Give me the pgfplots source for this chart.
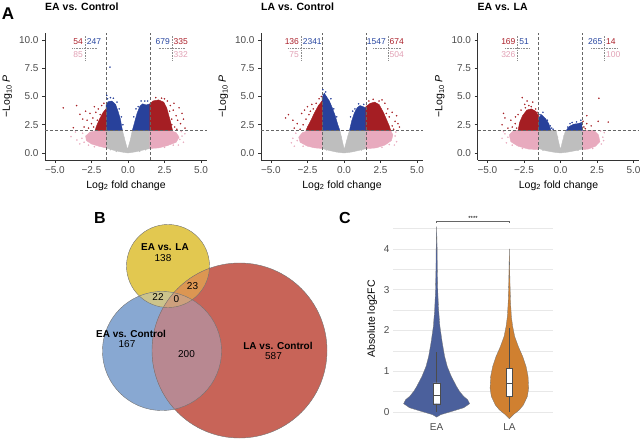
\documentclass[border=0pt]{standalone}
\usepackage{fontspec}
\setmainfont{Liberation Sans}
\usepackage{pgfplots}
\pgfplotsset{compat=1.18}
\definecolor{redpt}{RGB}{165,30,35}
\definecolor{bluept}{RGB}{40,65,155}
\definecolor{pinkpt}{RGB}{232,170,190}
\definecolor{greypt}{RGB}{190,190,190}
\definecolor{redlab}{RGB}{170,30,40}
\definecolor{bluelab}{RGB}{40,70,160}
\definecolor{pinklab}{RGB}{225,160,180}
\definecolor{vY}{RGB}{226,200,80}
\definecolor{vB}{RGB}{136,168,210}
\definecolor{vR}{RGB}{200,100,88}
\definecolor{vYB}{RGB}{204,196,140}
\definecolor{vBR}{RGB}{184,136,145}
\definecolor{vYR}{RGB}{220,150,82}
\definecolor{vYBR}{RGB}{205,160,125}
\definecolor{eacol}{RGB}{75,96,156}
\definecolor{lacol}{RGB}{208,128,48}
\tikzset{
 cnt/.style={font=\fontsize{8.5}{9}\selectfont, inner sep=1pt},
 sep/.style={black!45, line width=0.35pt, dash pattern=on 0.8pt off 0.8pt},
}
\pgfplotsset{
 volc/.style={
  scale only axis, width=162pt, height=127pt,
  xmin=-5.68, xmax=5.41, ymin=-0.62, ymax=10.62,
  axis x line*=bottom, axis y line*=left,
  axis line style={-, black!80, line width=0.5pt},
  every tick/.style={black!80, line width=0.5pt},
  tick align=outside, major tick length=3pt,
  xtick={-5,-2.5,0,2.5,5}, xticklabels={−5.0,−2.5,0.0,2.5,5.0},
  ytick={0,2.5,5,7.5,10}, yticklabels={0.0,2.5,5.0,7.5,10.0},
  tick label style={font=\fontsize{10}{11}\selectfont, text=black!70},
  label style={font=\fontsize{10.5}{12}\selectfont},
  xlabel={Log\textsubscript{2} fold change},
  ylabel={−Log\textsubscript{10} \textit{P}},
  anchor=south west,
 },
 dens/.style={draw=#1, fill=#1, line width=0.4pt},
 pts/.style={only marks, color=#1, mark=*, mark size=0.7pt, mark options={draw=#1, fill=#1, line width=0.1pt}},
 thr/.style={black!60, line width=0.5pt, dash pattern=on 3pt off 2pt},
}
\begin{document}
\begin{tikzpicture}[x=1pt,y=1pt]
\useasboundingbox (0,0) rectangle (643,440);

% ---------- Panel A1: EA vs. Control
\begin{axis}[volc, at={(45pt,280pt)}]
\addplot[dens=greypt] coordinates {(-1.5,2)(-1.5,0.45)(-1.0,0.25)(-0.5,0.1)(0,0)(0.5,0.1)(1.0,0.25)(1.5,0.4)(1.5,2)(0.3,2)(0.15,1.1)(-0.03,0.3)(-0.2,1.1)(-0.38,2)(-1.5,2)};
\addplot[dens=pinkpt] coordinates {(-1.5,2)(-2.1,2)(-2.6,1.85)(-2.9,1.5)(-2.85,1.1)(-2.5,0.8)(-2.0,0.6)(-1.5,0.45)(-1.5,2)};
\addplot[dens=pinkpt] coordinates {(1.5,2)(2.9,2)(3.3,1.8)(3.5,1.4)(3.3,0.95)(2.7,0.65)(2.1,0.45)(1.5,0.4)(1.5,2)};
\addplot[pts=pinkpt] coordinates {(-3.9,1.45)(-3.5,1.15)(-3.3,0.8)(-3.1,1.75)(-3.6,1.85)(-3.15,1.3)(-3.0,0.95)(-2.7,0.7)(-2.3,0.55)(3.7,1.5)(3.8,0.95)(3.65,1.9)(3.55,1.2)(3.9,1.7)(3.45,0.7)(3.1,0.7)(2.5,0.5)};
\addplot[pts=greypt] coordinates {(-0.3,1.4)(-0.25,0.9)(0.2,0.8)(0.25,1.5)(-1.2,0.3)(1.2,0.3)(-0.8,0.15)(0.8,0.15)};
\addplot[dens=bluept] coordinates {(-1.5,2)(-1.5,4.25)(-1.35,4.55)(-1.1,4.6)(-0.85,4.3)(-0.68,3.7)(-0.52,3.0)(-0.38,2)(-1.5,2)};
\addplot[dens=bluept] coordinates {(0.3,2)(0.45,2.7)(0.62,3.5)(0.82,4.15)(1.0,4.35)(1.25,4.25)(1.5,4.35)(1.5,2)(0.3,2)};
\addplot[pts=bluept] coordinates {(-1.23,7.6)(-1.4,4.8)(-1.0,4.85)(-0.75,4.5)(0.9,4.6)(0.7,4.1)(1.35,4.6)(-1.45,5.1)(-0.6,3.9)(-0.45,3.2)(-0.35,2.5)(0.4,3.2)(0.55,3.9)(1.15,4.6)(-1.2,4.9)};
\addplot[dens=redpt] coordinates {(1.5,2)(1.5,4.35)(1.7,4.6)(2.1,4.7)(2.45,4.5)(2.65,4.0)(2.8,3.3)(2.95,2.6)(3.05,2)(1.5,2)};
\addplot[dens=redpt] coordinates {(-1.5,2)(-1.5,3.9)(-1.7,3.6)(-1.95,3.0)(-2.15,2.4)(-2.25,2)(-1.5,2)};
\addplot[pts=redpt] coordinates {(-4.43,4.0)(-3.52,4.2)(-3.29,3.42)(-3.74,2.24)(-2.3,4.1)(-2.03,3.9)(-2.6,3.5)(-2.8,2.9)(-2.5,2.6)(-3.0,2.3)(-2.4,3.1)(-1.8,4.2)(-2.2,3.6)(-2.7,2.2)(-1.65,4.4)(-3.1,3.0)(-2.9,3.7)(-2.1,2.9)(-1.9,3.4)(-2.35,2.3)
 (3.1,3.8)(3.3,3.3)(3.6,2.6)(3.9,2.2)(3.2,2.3)(2.9,4.2)(3.4,2.9)(3.0,3.0)(3.7,3.5)(2.7,4.6)(3.5,4.0)(3.8,3.0)(3.15,4.4)(3.35,2.1)(2.5,4.8)(1.9,4.9)(2.3,4.85)(2.85,3.7)(3.0,2.5)};
\addplot[thr] coordinates {(-1.5,-0.62)(-1.5,10.62)};
\addplot[thr] coordinates {(1.5,-0.62)(1.5,10.62)};
\addplot[thr] coordinates {(-5.68,2)(5.41,2)};
\draw[sep] (axis cs:-2.95,8.2) -- (axis cs:-2.95,10.4);
\draw[sep] (axis cs:-3.8,9.3) -- (axis cs:-2.1,9.3);
\draw[sep] (axis cs:3.0,8.2) -- (axis cs:3.0,10.4);
\draw[sep] (axis cs:2.1,9.3) -- (axis cs:3.9,9.3);
\node[cnt, text=redlab, anchor=east] at (axis cs:-3.0,9.85) {54};
\node[cnt, text=bluelab, anchor=west] at (axis cs:-2.9,9.85) {247};
\node[cnt, text=pinklab, anchor=east] at (axis cs:-3.0,8.75) {85};
\node[cnt, text=bluelab, anchor=east] at (axis cs:2.95,9.85) {679};
\node[cnt, text=redlab, anchor=west] at (axis cs:3.05,9.85) {335};
\node[cnt, text=pinklab, anchor=west] at (axis cs:3.05,8.75) {332};
\end{axis}

% ---------- Panel A2: LA vs. Control
\begin{axis}[volc, at={(261pt,280pt)}]
\addplot[dens=greypt] coordinates {(-1.5,2)(-1.5,0.4)(-1.0,0.22)(-0.5,0.08)(0,0)(0.5,0.08)(1.0,0.22)(1.5,0.38)(1.5,2)(0.38,2)(0.18,1.1)(0.02,0.3)(-0.12,1.1)(-0.28,2)(-1.5,2)};
\addplot[dens=pinkpt] coordinates {(-1.5,2)(-2.4,2)(-2.85,1.8)(-3.1,1.4)(-3.0,0.95)(-2.5,0.6)(-2.0,0.45)(-1.5,0.4)(-1.5,2)};
\addplot[dens=pinkpt] coordinates {(1.5,2)(3.2,2)(3.35,1.6)(3.25,1.1)(2.8,0.7)(2.2,0.45)(1.5,0.38)(1.5,2)};
\addplot[pts=pinkpt] coordinates {(-3.5,1.3)(-3.3,1.75)(-3.6,0.9)(-3.4,0.6)(-3.2,1.1)(-2.8,0.6)(3.5,1.5)(3.6,1.0)(3.45,0.7)(3.55,1.85)(3.1,0.75)(2.6,0.5)};
\addplot[pts=greypt] coordinates {(-0.2,1.4)(0.3,1.5)(-1.2,0.28)(1.2,0.28)};
\addplot[dens=bluept] coordinates {(-1.5,2)(-1.5,4.9)(-1.35,5.3)(-1.2,5.0)(-1.0,4.6)(-0.8,4.0)(-0.6,3.3)(-0.42,2.5)(-0.28,2)(-1.5,2)};
\addplot[dens=bluept] coordinates {(0.38,2)(0.52,2.8)(0.7,3.5)(0.9,4.0)(1.1,4.2)(1.3,4.1)(1.5,4.0)(1.5,2)(0.38,2)};
\addplot[pts=bluept] coordinates {(-1.45,5.6)(-1.25,5.4)(-0.9,4.8)(1.0,4.35)(0.75,3.9)(-0.7,3.9)(-0.5,3.2)(0.45,3.2)(0.6,3.7)(1.35,4.3)};
\addplot[dens=redpt] coordinates {(-1.5,2)(-1.5,4.6)(-1.75,4.2)(-2.0,3.6)(-2.3,2.8)(-2.5,2.3)(-2.6,2)(-1.5,2)};
\addplot[dens=redpt] coordinates {(1.5,2)(1.5,4.1)(1.8,4.4)(2.1,4.5)(2.4,4.3)(2.7,3.6)(2.9,3.0)(3.1,2.4)(3.2,2)(1.5,2)};
\addplot[pts=redpt] coordinates {(-4.0,3.1)(-3.8,3.4)(-3.2,2.6)(-2.9,3.5)(-2.8,2.5)(-2.6,3.0)(-2.5,4.1)(-2.2,4.3)(-3.4,2.2)(-3.0,2.1)(-2.7,3.8)(-2.4,3.4)(-2.1,3.9)(-1.9,4.4)(-1.7,4.8)(-3.5,2.9)(-2.3,3.7)(-1.55,5.0)
 (3.3,2.4)(3.5,2.8)(3.6,3.3)(3.3,3.6)(3.0,3.9)(2.8,4.4)(3.8,2.3)(3.4,2.1)(2.6,4.7)(3.1,3.2)(3.7,2.6)(2.4,4.6)(1.7,4.6)(2.0,4.75)(2.9,3.5)};
\addplot[thr] coordinates {(-1.5,-0.62)(-1.5,10.62)};
\addplot[thr] coordinates {(1.5,-0.62)(1.5,10.62)};
\addplot[thr] coordinates {(-5.68,2)(5.41,2)};
\draw[sep] (axis cs:-2.95,8.2) -- (axis cs:-2.95,10.4);
\draw[sep] (axis cs:-3.8,9.3) -- (axis cs:-2.0,9.3);
\draw[sep] (axis cs:3.0,8.2) -- (axis cs:3.0,10.4);
\draw[sep] (axis cs:2.0,9.3) -- (axis cs:3.9,9.3);
\node[cnt, text=redlab, anchor=east] at (axis cs:-3.0,9.85) {136};
\node[cnt, text=bluelab, anchor=west] at (axis cs:-2.9,9.85) {2341};
\node[cnt, text=pinklab, anchor=east] at (axis cs:-3.0,8.75) {75};
\node[cnt, text=bluelab, anchor=east] at (axis cs:2.95,9.85) {1547};
\node[cnt, text=redlab, anchor=west] at (axis cs:3.05,9.85) {674};
\node[cnt, text=pinklab, anchor=west] at (axis cs:3.05,8.75) {504};
\end{axis}

% ---------- Panel A3: EA vs. LA
\begin{axis}[volc, at={(477.5pt,280pt)}]
\addplot[dens=greypt] coordinates {(-1.5,2)(-1.5,0.4)(-1.0,0.2)(-0.5,0.08)(0,0)(0.5,0.08)(1.0,0.2)(1.5,0.35)(1.5,2)(0.35,2)(0.15,1.1)(0,0.3)(-0.15,1.1)(-0.3,2)(-1.5,2)};
\addplot[dens=pinkpt] coordinates {(-1.5,2)(-3.2,2)(-3.5,1.6)(-3.4,1.0)(-2.9,0.6)(-2.2,0.35)(-1.5,0.3)(-1.5,2)};
\addplot[dens=pinkpt] coordinates {(1.5,2)(2.3,2)(2.6,1.6)(2.7,1.0)(2.4,0.6)(1.9,0.35)(1.5,0.3)(1.5,2)};
\addplot[pts=pinkpt] coordinates {(-3.8,1.7)(-4.0,1.3)(-3.7,0.9)(-3.9,1.9)(-3.6,1.4)(-3.3,0.7)(-2.6,0.4)(2.9,1.4)(2.8,0.8)(3.0,1.8)(2.95,1.1)(2.75,1.95)(2.2,0.4)};
\addplot[pts=greypt] coordinates {(-0.2,1.4)(0.25,1.5)(-1.2,0.25)(1.2,0.25)};
\addplot[dens=bluept] coordinates {(-1.5,2)(-1.5,3.1)(-1.3,3.4)(-1.0,3.0)(-0.8,2.6)(-0.65,2)(-1.5,2)};
\addplot[dens=bluept] coordinates {(0.4,2)(0.6,2.35)(0.9,2.55)(1.2,2.6)(1.45,2.7)(1.5,2)(0.4,2)};
\addplot[pts=bluept] coordinates {(-1.2,3.6)(-0.9,2.9)(-0.7,2.4)(-0.6,2.2)(0.8,2.7)(1.1,2.75)(1.4,2.9)(0.5,2.3)(-1.4,3.4)(-0.5,2.1)(0.65,2.6)};
\addplot[dens=redpt] coordinates {(-1.5,2)(-1.5,3.3)(-1.7,3.7)(-2.0,3.9)(-2.3,3.8)(-2.6,3.3)(-2.8,2.7)(-2.9,2)(-1.5,2)};
\addplot[pts=redpt] coordinates {(-2.62,4.9)(-2.28,4.6)(-2.17,4.2)(-3.08,3.2)(-3.9,3.5)(-3.8,3.1)(-4.0,2.5)(-3.4,2.9)(-3.3,2.3)(-1.9,4.5)(-2.7,3.8)(-1.7,3.9)(-3.1,2.6)(-2.45,4.3)(-3.6,2.2)(-2.0,4.1)(-2.9,3.4)(-3.0,2.2)(-2.4,4.0)(-1.6,3.6)
 (2.63,4.84)(2.58,2.8)(3.27,2.74)(1.8,2.6)(1.6,2.3)(1.7,2.15)(2.1,2.4)(1.8,3.3)(1.55,2.8)};
\addplot[thr] coordinates {(-1.5,-0.62)(-1.5,10.62)};
\addplot[thr] coordinates {(1.5,-0.62)(1.5,10.62)};
\addplot[thr] coordinates {(-5.68,2)(5.41,2)};
\draw[sep] (axis cs:-2.95,8.2) -- (axis cs:-2.95,10.4);
\draw[sep] (axis cs:-3.8,9.3) -- (axis cs:-2.1,9.3);
\draw[sep] (axis cs:3.0,8.2) -- (axis cs:3.0,10.4);
\draw[sep] (axis cs:2.1,9.3) -- (axis cs:3.9,9.3);
\node[cnt, text=redlab, anchor=east] at (axis cs:-3.0,9.85) {169};
\node[cnt, text=bluelab, anchor=west] at (axis cs:-2.9,9.85) {51};
\node[cnt, text=pinklab, anchor=east] at (axis cs:-3.0,8.75) {326};
\node[cnt, text=bluelab, anchor=east] at (axis cs:2.95,9.85) {265};
\node[cnt, text=redlab, anchor=west] at (axis cs:3.05,9.85) {14};
\node[cnt, text=pinklab, anchor=west] at (axis cs:3.05,8.75) {100};
\end{axis}

% ---------- Panel B: Venn
\begin{axis}[scale only axis, width=643pt, height=440pt, xmin=0, xmax=643, ymin=0, ymax=440,
  hide axis, at={(0pt,0pt)}, anchor=south west, clip=false]
\fill[vY] (axis cs:168,174) circle[radius=41.5];
\fill[vB] (axis cs:162,89) circle[radius=59.5];
\fill[vR] (axis cs:239.5,89.5) circle[radius=87.5];
\begin{scope}\clip (axis cs:162,89) circle[radius=59.5]; \fill[vYB] (axis cs:168,174) circle[radius=41.5];\end{scope}
\begin{scope}\clip (axis cs:162,89) circle[radius=59.5]; \fill[vBR] (axis cs:239.5,89.5) circle[radius=87.5];\end{scope}
\begin{scope}\clip (axis cs:168,174) circle[radius=41.5]; \fill[vYR] (axis cs:239.5,89.5) circle[radius=87.5];\end{scope}
\begin{scope}\clip (axis cs:168,174) circle[radius=41.5]; \clip (axis cs:162,89) circle[radius=59.5]; \fill[vYBR] (axis cs:239.5,89.5) circle[radius=87.5];\end{scope}
\draw[black!55, line width=0.4pt] (axis cs:168,174) circle[radius=41.5];
\draw[black!55, line width=0.4pt] (axis cs:162,89) circle[radius=59.5];
\draw[black!55, line width=0.4pt] (axis cs:239.5,89.5) circle[radius=87.5];
\begin{scope}[every node/.style={font=\fontsize{10}{12}\selectfont, inner sep=0pt}]
\node[font=\fontsize{10}{12}\selectfont\bfseries] at (axis cs:165,193) {EA vs. LA};
\node at (axis cs:163,182) {138};
\node at (axis cs:158,143) {22};
\node at (axis cs:176.5,141) {0};
\node at (axis cs:192.5,153.5) {23};
\node[font=\fontsize{10}{12}\selectfont\bfseries] at (axis cs:131,106) {EA vs. Control};
\node at (axis cs:127,95.5) {167};
\node at (axis cs:186.5,86) {200};
\node[font=\fontsize{10}{12}\selectfont\bfseries] at (axis cs:278,94) {LA vs. Control};
\node at (axis cs:273.5,83.5) {587};
\end{scope}
\end{axis}

% ---------- Panel C: violin
\begin{axis}[scale only axis, width=160pt, height=202pt, at={(393pt,20pt)}, anchor=south west,
  xmin=0.4, xmax=2.6, ymin=-0.2, ymax=4.76,
  xtick={1,2}, xticklabels={EA,LA},
  ytick={0,1,2,3,4}, yticklabels={0,1,2,3,4},
  minor ytick={0.5,1.5,2.5,3.5,4.5},
  ymajorgrids, yminorgrids,
  major grid style={black!9, line width=0.5pt}, minor grid style={black!9, line width=0.5pt},
  axis line style={draw=none}, tick style={draw=none},
  tick label style={font=\fontsize{10}{11}\selectfont, text=black!70},
  ylabel={Absolute log2FC}, label style={font=\fontsize{10.5}{12}\selectfont},
  clip=false]
\addplot[fill=eacol, draw=black!55, line width=0.3pt] coordinates {
(1,-0.13)(1.055,-0.07)(1.234,0.025)(1.371,0.1)(1.454,0.2)(1.426,0.3)(1.371,0.38)(1.316,0.5)(1.275,0.62)(1.202,0.87)(1.147,1.11)(1.110,1.36)(1.078,1.69)(1.045,2.1)(1.0275,2.5)(1.0165,2.92)(1.0096,3.5)(1.0069,4.0)(1,4.55)
(0.9931,4.0)(0.9904,3.5)(0.9835,2.92)(0.9725,2.5)(0.955,2.1)(0.922,1.69)(0.890,1.36)(0.853,1.11)(0.798,0.87)(0.725,0.62)(0.684,0.5)(0.629,0.38)(0.574,0.3)(0.546,0.2)(0.629,0.1)(0.766,0.025)(0.945,-0.07)(1,-0.13)};
\addplot[fill=lacol, draw=black!55, line width=0.3pt] coordinates {
(2,-0.17)(2.055,-0.07)(2.138,0.05)(2.193,0.17)(2.248,0.38)(2.265,0.58)(2.257,0.87)(2.230,1.11)(2.183,1.36)(2.124,1.6)(2.073,1.85)(2.045,2.1)(2.0275,2.34)(2.0165,2.68)(2.008,3.2)(2,4.0)
(1.992,3.2)(1.9835,2.68)(1.9725,2.34)(1.955,2.1)(1.927,1.85)(1.876,1.6)(1.817,1.36)(1.770,1.11)(1.743,0.87)(1.735,0.58)(1.752,0.38)(1.807,0.17)(1.862,0.05)(1.945,-0.07)(2,-0.17)};
\addplot[black!70, line width=0.4pt] coordinates {(1,0)(1,1.47)};
\addplot[black!70, line width=0.4pt] coordinates {(2,0)(2,2.07)};
\addplot[fill=white, draw=black!70, line width=0.4pt] coordinates {(0.956,0.2)(1.044,0.2)(1.044,0.71)(0.956,0.71)(0.956,0.2)};
\addplot[black!70, line width=0.5pt] coordinates {(0.956,0.42)(1.044,0.42)};
\addplot[fill=white, draw=black!70, line width=0.4pt] coordinates {(1.956,0.39)(2.044,0.39)(2.044,1.06)(1.956,1.06)(1.956,0.39)};
\addplot[black!70, line width=0.5pt] coordinates {(1.956,0.71)(2.044,0.71)};
\addplot[black!60, line width=0.4pt] coordinates {(1,4.64)(1,4.68)(2,4.68)(2,4.64)};
\node[font=\fontsize{6}{6}\selectfont, anchor=south, inner sep=1pt] at (axis cs:1.5,4.68) {****};
\end{axis}

% ---------- titles and panel letters
\node[anchor=west, inner sep=0pt, font=\fontsize{10.5}{12}\selectfont\bfseries] at (45,433.5) {EA vs. Control};
\node[anchor=west, inner sep=0pt, font=\fontsize{10.5}{12}\selectfont\bfseries] at (261,433.5) {LA vs. Control};
\node[anchor=west, inner sep=0pt, font=\fontsize{10.5}{12}\selectfont\bfseries] at (477.5,433.5) {EA vs. LA};
\node[inner sep=0pt, font=\fontsize{17}{18}\selectfont\bfseries] at (8,426.5) {A};
\node[inner sep=0pt, font=\fontsize{16}{18}\selectfont\bfseries] at (100,222.5) {B};
\node[inner sep=0pt, font=\fontsize{16}{18}\selectfont\bfseries] at (345,222) {C};
\end{tikzpicture}
\end{document}
